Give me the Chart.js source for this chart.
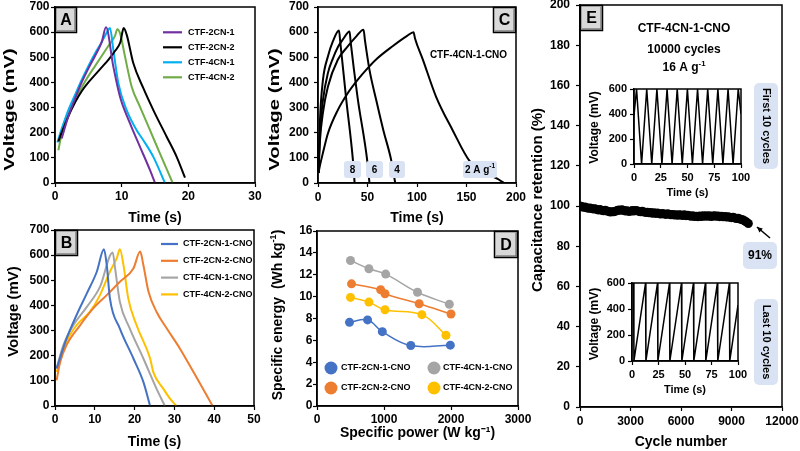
<!DOCTYPE html>
<html><head><meta charset="utf-8">
<script src="https://cdn.jsdelivr.net/npm/chart.js@4.4.0/dist/chart.umd.min.js"></script>
<style>
html,body{margin:0;padding:0;background:#fff;}
#wrap{position:relative;width:800px;height:451px;overflow:hidden;background:#fff;}
#wrap canvas{position:absolute;left:0;top:0;}
</style></head><body><div id="wrap">
<canvas id="cA" width="800" height="451"></canvas>
<canvas id="cB" width="800" height="451"></canvas>
<canvas id="cC" width="800" height="451"></canvas>
<canvas id="cD" width="800" height="451"></canvas>
<canvas id="cE" width="800" height="451"></canvas>
<canvas id="cE1" width="800" height="451"></canvas>
<canvas id="cE2" width="800" height="451"></canvas>
</div>
<script>
// ================= DATA =================
// Panel A : time (s) / voltage (mV)
const aLabels = ['CTF-2CN-1', 'CTF-2CN-2', 'CTF-4CN-1', 'CTF-4CN-2'];
const aT_2CN1 = [1.0, 2, 3, 4, 5, 6, 7, 7.65, 8.75, 9.75, 11.25, 12.75, 14.25, 15.0];
const aV_2CN1 = [177, 265, 335, 400, 455, 505, 560, 619, 463, 343, 237, 144, 51, 0];
const aT_2CN2 = [0.5, 1, 2, 3, 4, 5, 6, 7, 8, 9, 9.8, 10.3, 10.75, 11.75, 13.25, 14.75, 16.75, 18.25, 19.5];
const aV_2CN2 = [165, 200, 265, 320, 365, 400, 430, 460, 490, 525, 560, 616, 590, 476, 377, 290, 184, 104, 21];
const aT_4CN1 = [0.35, 1, 2, 3, 4, 5, 6, 7, 7.8, 8.25, 8.75, 9.5, 10.75, 12.25, 13.25, 14.75, 16.5];
const aV_4CN1 = [161, 215, 290, 350, 410, 465, 515, 560, 600, 616, 530, 397, 290, 210, 170, 104, 0];
const aT_4CN2 = [0.5, 1, 2, 3, 4, 5, 6, 7, 8, 9, 9.35, 9.75, 10.5, 11.5, 12.75, 14.25, 15.75, 17.65];
const aV_4CN2 = [130, 195, 275, 330, 380, 425, 465, 505, 545, 585, 612, 596, 503, 383, 303, 210, 117, 0];

// Panel B
const bLabels = ['CTF-2CN-1-CNO', 'CTF-2CN-2-CNO', 'CTF-4CN-1-CNO', 'CTF-4CN-2-CNO'];
const bT_2CN1 = [0.4, 2.9, 5.4, 8.0, 10.5, 12.3, 13.0, 13.8, 16.3, 19.7, 22.2, 23.9];
const bV_2CN1 = [149, 268, 361, 448, 534, 623, 561, 428, 308, 189, 96, 0];
const bT_2CN2 = [0.4, 1.3, 2.9, 6.3, 9.6, 13.0, 16.3, 19.7, 21.4, 22.2, 23.5, 25.5, 28.1, 31.4, 34.8, 38.1, 39.6];
const bV_2CN2 = [102, 175, 242, 321, 388, 441, 494, 547, 614, 561, 454, 375, 308, 228, 135, 43, 0];
const bT_4CN1 = [0.4, 2.1, 4.6, 8.0, 11.3, 14.5, 15.1, 16.3, 18.8, 22.2, 25.5, 27.6];
const bV_4CN1 = [149, 242, 321, 394, 474, 611, 547, 414, 308, 189, 69, 0];
const bT_4CN2 = [0.4, 2.9, 5.4, 8.8, 11.3, 13.8, 15.5, 16.3, 17.2, 18.4, 20.5, 23.9, 24.7, 27.2, 28.9, 30.5];
const bV_4CN2 = [135, 255, 321, 375, 441, 534, 587, 623, 561, 428, 321, 189, 135, 69, 29, 0];

// Panel C : CTF-4CN-1-CNO at 8, 6, 4, 2 A/g
const cCurrents = ['8', '6', '4', '2'];
const cT_8 = [0.5, 2, 5, 10, 15, 21.2, 22.5, 28.6, 35.3, 37];
const cV_8 = [40, 250, 410, 503, 563, 607, 560, 330, 90, 0];
const cT_6 = [0.5, 2, 5, 10, 15, 20, 25, 31.9, 33, 40, 49.7, 52];
const cV_6 = [40, 200, 330, 437, 495, 540, 570, 603, 560, 340, 90, 0];
const cT_4 = [0.5, 2, 5, 10, 20, 30, 38, 46, 47.5, 52, 58.8, 66, 74, 78];
const cV_4 = [40, 170, 280, 383, 490, 543, 580, 610, 565, 450, 330, 210, 90, 0];
const cT_2 = [0.5, 2, 5, 10, 20, 30, 40, 50, 60, 75, 90, 96.5, 98, 106, 119.3, 136, 153, 168, 181, 188];
const cV_2 = [40, 70, 120, 197, 290, 357, 410, 456, 496, 543, 585, 600, 575, 490, 343, 210, 88, 42, 17, 0];

// Panel D : specific power (W/kg) / specific energy (Wh/kg)
const dLabels = ['CTF-2CN-1-CNO', 'CTF-2CN-2-CNO', 'CTF-4CN-1-CNO', 'CTF-4CN-2-CNO'];
const dP_2CN1 = [485, 755, 975, 1400, 1990];
const dE_2CN1 = [7.65, 7.87, 6.8, 5.53, 5.56];
const dP_2CN2 = [515, 950, 1015, 1525, 2000];
const dE_2CN2 = [11.17, 10.63, 10.26, 9.35, 8.41];
const dP_4CN1 = [500, 775, 1025, 1500, 1975];
const dE_4CN1 = [13.3, 12.55, 12.06, 10.4, 9.3];
const dP_4CN2 = [500, 775, 1015, 1565, 1925];
const dE_4CN2 = [9.93, 9.5, 8.8, 8.35, 6.47];

// Panel E : cycling stability
const eCycles = [0,100,200,300,400,500,600,700,800,900,1000,1100,1200,1300,1400,1500,1600,1700,1800,1900,
  2000,2100,2200,2300,2400,2500,2600,2700,2800,2900,3000,3100,3200,3300,3400,3500,3600,3700,3800,3900,
  4000,4100,4200,4300,4400,4500,4600,4700,4800,4900,5000,5100,5200,5300,5400,5500,5600,5700,5800,5900,
  6000,6100,6200,6300,6400,6500,6600,6700,6800,6900,7000,7100,7200,7300,7400,7500,7600,7700,7800,7900,
  8000,8100,8200,8300,8400,8500,8600,8700,8800,8900,9000,9100,9200,9300,9400,9500,9600,9700,9800,9900,10000];
const eRetention = [100.0,99.7,99.4,99.5,99.1,98.9,99.0,98.7,98.5,98.6,
  98.3,98.0,98.2,97.8,97.6,97.9,97.5,97.3,97.0,97.2,
  97.1,97.4,97.7,98.0,97.9,98.1,97.8,97.5,97.6,97.3,
  97.4,97.7,97.5,97.8,97.6,97.3,97.1,97.4,97.0,96.8,
  96.9,96.6,96.8,96.4,96.6,96.3,96.5,96.2,96.0,96.3,
  96.0,95.8,96.1,95.9,95.6,95.8,95.5,95.7,95.4,95.6,
  95.5,95.3,95.6,95.2,95.4,95.1,94.9,95.2,94.8,94.9,
  94.7,95.0,94.8,95.1,94.9,95.2,94.9,95.1,94.8,95.0,
  95.1,94.9,95.0,94.7,94.9,94.6,94.8,94.5,94.6,94.4,
  94.2,94.4,94.0,93.8,93.9,93.5,93.3,93.0,92.5,92.0,91.3];
// Insets: first and last 10 cycles (time s / voltage mV)
const firstT = [0, 2.4, 7.1, 11.9, 16.6, 21.4, 26.1, 30.9, 35.6, 40.4, 45.1, 49.9, 54.6, 59.4, 64.1, 68.9, 73.6, 78.4, 83.1, 87.9, 92.6, 97.4, 100];
const firstV = [390, 600, 0, 600, 0, 600, 0, 600, 0, 600, 0, 600, 0, 600, 0, 600, 0, 600, 0, 600, 0, 600, 400];
const lastT = [0, 1.5, 1.8, 12.8, 13.1, 24.1, 24.4, 35.4, 35.7, 46.7, 47.0, 58.0, 58.3, 69.3, 69.6, 80.6, 80.9, 91.9, 92.2, 100];
const lastV = [600, 600, 0, 600, 0, 600, 0, 600, 0, 600, 0, 600, 0, 600, 0, 600, 0, 600, 0, 430];

// ================= SETUP =================
const FONT = '"Liberation Sans", Arial, Helvetica, sans-serif';
Chart.defaults.font.family = FONT;
Chart.defaults.font.weight = 'bold';
Chart.defaults.font.size = 12;
Chart.defaults.color = '#000';
Chart.defaults.animation = false;
Chart.defaults.responsive = false;
Chart.defaults.devicePixelRatio = 1;
Chart.defaults.events = [];
Chart.defaults.plugins.legend.display = false;
Chart.defaults.plugins.tooltip.enabled = false;

const pts = (xs, ys) => xs.map((x, i) => ({x: x, y: ys[i]}));
const fnt = (s) => 'bold ' + s + 'px ' + FONT;

function axis(min, max, step, o) {
  const cfg = {
    type: 'linear', min: min, max: max,
    ticks: {stepSize: step, padding: o.pad, font: {size: o.fs || 12}, maxRotation: 0, autoSkip: false,
      callback: (v) => String(v)},
    grid: {display: true, drawOnChartArea: false, drawTicks: true, tickLength: o.tl || 4, tickColor: '#000', tickWidth: 1.2},
    border: {display: true, color: '#000', width: 1.5},
    afterFit: function (s) {
      if (o.w != null) s.width = o.w;
      if (o.h != null) s.height = o.h;
      s.paddingTop = 0; s.paddingBottom = 0; s.paddingLeft = 0; s.paddingRight = 0;
    }
  };
  if (o.title) cfg.title = {display: true, text: o.title, font: {size: o.tfs || 14}, padding: {top: 0, bottom: o.tpb || 0}};
  return cfg;
}

function rr(ctx, x, y, w, h, r) {
  ctx.beginPath();
  ctx.moveTo(x + r, y);
  ctx.arcTo(x + w, y, x + w, y + h, r);
  ctx.arcTo(x + w, y + h, x, y + h, r);
  ctx.arcTo(x, y + h, x, y, r);
  ctx.arcTo(x, y, x + w, y, r);
  ctx.closePath();
}
function partsW(ctx, parts, sz) {
  let w = 0;
  parts.forEach(p => { ctx.font = fnt(p.sup ? sz * 0.65 : sz); w += ctx.measureText(p.t).width; });
  return w;
}
function drawParts(ctx, parts, x, y, sz, align) {
  const w = partsW(ctx, parts, sz);
  let cx = align === 'left' ? x : (align === 'right' ? x - w : x - w / 2);
  ctx.textAlign = 'left'; ctx.textBaseline = 'middle'; ctx.fillStyle = '#000';
  parts.forEach(p => {
    const s = p.sup ? sz * 0.65 : sz;
    ctx.font = fnt(s);
    ctx.fillText(p.t, cx, p.sup ? y - sz * 0.33 : y);
    cx += ctx.measureText(p.t).width;
  });
}

function drawItem(ctx, it, chart) {
  ctx.save();
  if (it.type === 'panel') {
    ctx.fillStyle = '#d9d9d9';
    ctx.fillRect(it.x, it.y, it.w, it.h);
    ctx.strokeStyle = '#000'; ctx.lineWidth = 1.5;
    ctx.strokeRect(it.x + 0.5, it.y + 0.5, it.w - 1, it.h - 1);
    ctx.strokeStyle = '#555'; ctx.lineWidth = 1;
    ctx.beginPath(); ctx.moveTo(it.x + it.w - 2, it.y + 2); ctx.lineTo(it.x + it.w - 2, it.y + it.h - 2); ctx.lineTo(it.x + 2, it.y + it.h - 2); ctx.stroke();
    drawParts(ctx, [{t: it.text}], it.x + it.w / 2, it.y + it.h / 2 + 1, it.size || 16, 'center');
  } else if (it.type === 'ytitle') {
    ctx.translate(it.x, it.y);
    ctx.rotate(-Math.PI / 2);
    ctx.scale(it.sx || 1, 1);
    drawParts(ctx, it.parts, 0, 0, it.size, 'center');
  } else if (it.type === 'text') {
    drawParts(ctx, it.parts, it.x, it.y, it.size, it.align || 'center');
  } else if (it.type === 'box') {
    ctx.fillStyle = '#dae3f3';
    rr(ctx, it.x, it.y, it.w, it.h, it.r || 3);
    ctx.fill();
    if (it.rot) {
      ctx.translate(it.x + it.w / 2, it.y + it.h / 2);
      ctx.rotate(Math.PI / 2);
      drawParts(ctx, it.parts, 0, 0, it.size, 'center');
    } else {
      drawParts(ctx, it.parts, it.x + it.w / 2, it.y + it.h / 2 + 0.5, it.size, 'center');
    }
  } else if (it.type === 'legendLine') {
    chart.data.datasets.forEach((ds, i) => {
      const y = it.y0 + i * it.dy;
      ctx.strokeStyle = ds.borderColor; ctx.lineWidth = 2.2;
      ctx.beginPath(); ctx.moveTo(it.x1, y); ctx.lineTo(it.x2, y); ctx.stroke();
      drawParts(ctx, [{t: ds.label}], it.tx, y, it.size, 'left');
    });
  } else if (it.type === 'legendDot') {
    it.pos.forEach(p => {
      const ds = chart.data.datasets[p.i];
      ctx.fillStyle = ds.backgroundColor;
      ctx.beginPath(); ctx.arc(p.x, p.y, it.r, 0, Math.PI * 2); ctx.fill();
      drawParts(ctx, [{t: ds.label}], p.tx, p.y, it.size, 'left');
    });
  } else if (it.type === 'arrow') {
    ctx.strokeStyle = '#000'; ctx.fillStyle = '#000'; ctx.lineWidth = 1.5;
    ctx.beginPath(); ctx.moveTo(it.x1, it.y1); ctx.lineTo(it.x2, it.y2); ctx.stroke();
    const a = Math.atan2(it.y2 - it.y1, it.x2 - it.x1), L = 6;
    ctx.beginPath();
    ctx.moveTo(it.x2, it.y2);
    ctx.lineTo(it.x2 - L * Math.cos(a - 0.45), it.y2 - L * Math.sin(a - 0.45));
    ctx.lineTo(it.x2 - L * Math.cos(a + 0.45), it.y2 - L * Math.sin(a + 0.45));
    ctx.closePath(); ctx.fill();
  }
  ctx.restore();
}

Chart.register({
  id: 'decor',
  afterDraw(chart, args, o) {
    const ctx = chart.ctx, a = chart.chartArea;
    ctx.save();
    if (o.frame) {
      ctx.strokeStyle = '#000'; ctx.lineWidth = 1.5;
      ctx.strokeRect(a.left, a.top, a.right - a.left, a.bottom - a.top);
    }
    (o.items || []).forEach(it => drawItem(ctx, it, chart));
    ctx.restore();
  }
});

const lineDs = (label, xs, ys, color, w) => ({label: label, data: pts(xs, ys), borderColor: color, backgroundColor: color, borderWidth: w || 2, pointRadius: 0, fill: false, cubicInterpolationMode: 'monotone'});

// ================= PANEL A =================
new Chart(document.getElementById('cA'), {
  type: 'line',
  data: {datasets: [
    lineDs(aLabels[0], aT_2CN1, aV_2CN1, '#7030a0'),
    lineDs(aLabels[1], aT_2CN2, aV_2CN2, '#000000'),
    lineDs(aLabels[2], aT_4CN1, aV_4CN1, '#00b0f0'),
    lineDs(aLabels[3], aT_4CN2, aV_4CN2, '#70ad47')
  ]},
  options: {
    layout: {padding: {left: 5, right: 545, top: 7, bottom: 224}},
    scales: {
      x: axis(0, 30, 10, {h: 44, pad: 2, title: 'Time (s)'}),
      y: axis(0, 700, 100, {w: 50, pad: 1.5})
    },
    plugins: {decor: {frame: true, items: [
      {type: 'panel', text: 'A', x: 55, y: 7, w: 22, h: 26},
      {type: 'legendLine', x1: 163, x2: 182, tx: 188, y0: 32.3, dy: 15, size: 9},
      {type: 'ytitle', parts: [{t: 'Voltage (mV)'}], x: 9.5, y: 109.5, size: 15, sx: 1.35}
    ]}}
  }
});

// ================= PANEL B =================
new Chart(document.getElementById('cB'), {
  type: 'line',
  data: {datasets: [
    lineDs(bLabels[0], bT_2CN1, bV_2CN1, '#4472c4'),
    lineDs(bLabels[1], bT_2CN2, bV_2CN2, '#ed7d31'),
    lineDs(bLabels[2], bT_4CN1, bV_4CN1, '#a5a5a5'),
    lineDs(bLabels[3], bT_4CN2, bV_4CN2, '#ffc000')
  ]},
  options: {
    layout: {padding: {left: 5, right: 546, top: 230, bottom: 0}},
    scales: {
      x: axis(0, 50, 10, {h: 45, pad: 2, title: 'Time (s)'}),
      y: axis(0, 700, 100, {w: 50, pad: 1.5})
    },
    plugins: {decor: {frame: true, items: [
      {type: 'panel', text: 'B', x: 55, y: 230, w: 23, h: 26},
      {type: 'legendLine', x1: 161, x2: 178, tx: 183, y0: 244, dy: 16.8, size: 9},
      {type: 'ytitle', parts: [{t: 'Voltage (mV)'}], x: 13.5, y: 311.5, size: 15, sx: 1.0}
    ]}}
  }
});

// ================= PANEL C =================
new Chart(document.getElementById('cC'), {
  type: 'line',
  data: {datasets: [
    lineDs(cCurrents[0] + ' A/g', cT_8, cV_8, '#000'),
    lineDs(cCurrents[1] + ' A/g', cT_6, cV_6, '#000'),
    lineDs(cCurrents[2] + ' A/g', cT_4, cV_4, '#000'),
    lineDs(cCurrents[3] + ' A/g', cT_2, cV_2, '#000')
  ]},
  options: {
    layout: {padding: {left: 268, right: 284, top: 7, bottom: 224}},
    scales: {
      x: axis(0, 200, 50, {h: 44, pad: 3, title: 'Time (s)'}),
      y: axis(0, 700, 100, {w: 50, pad: 5})
    },
    plugins: {decor: {frame: true, items: [
      {type: 'panel', text: 'C', x: 493, y: 7, w: 23, h: 26},
      {type: 'text', parts: [{t: 'CTF-4CN-1-CNO'}], x: 468.5, y: 55, size: 10},
      {type: 'box', parts: [{t: cCurrents[0]}], x: 344, y: 161, w: 17, h: 17, size: 10},
      {type: 'box', parts: [{t: cCurrents[1]}], x: 366, y: 161, w: 17, h: 17, size: 10},
      {type: 'box', parts: [{t: cCurrents[2]}], x: 389, y: 161, w: 16, h: 17, size: 10},
      {type: 'box', parts: [{t: cCurrents[3] + ' A g'}, {t: '-1', sup: true}], x: 463, y: 161, w: 34, h: 17, size: 10},
      {type: 'ytitle', parts: [{t: 'Voltage (mV)'}], x: 275, y: 109.5, size: 15, sx: 1.35}
    ]}}
  }
});

// ================= PANEL D =================
const dotDs = (label, xs, ys, color) => ({label: label, data: pts(xs, ys), borderColor: color, backgroundColor: color, borderWidth: 1.5, pointRadius: 4.5, pointBorderWidth: 0, tension: 0.4, fill: false});
new Chart(document.getElementById('cD'), {
  type: 'line',
  data: {datasets: [
    dotDs(dLabels[0], dP_2CN1, dE_2CN1, '#4472c4'),
    dotDs(dLabels[1], dP_2CN2, dE_2CN2, '#ed7d31'),
    dotDs(dLabels[2], dP_4CN1, dE_4CN1, '#a5a5a5'),
    dotDs(dLabels[3], dP_4CN2, dE_4CN2, '#ffc000')
  ]},
  options: {
    layout: {padding: {left: 272, right: 282, top: 231, bottom: 5}},
    scales: {
      x: axis(0, 3000, 1000, {h: 40, pad: 2, title: 'Specific power (W kg\u207B\u00B9)', tpb: 4}),
      y: axis(0, 16, 2, {w: 45, pad: 0.5})
    },
    plugins: {decor: {frame: true, items: [
      {type: 'panel', text: 'D', x: 494, y: 231, w: 24, h: 27},
      {type: 'legendDot', r: 6.5, size: 9, pos: [
        {i: 0, x: 331, y: 368, tx: 341}, {i: 2, x: 434, y: 368, tx: 443},
        {i: 1, x: 331, y: 388, tx: 341}, {i: 3, x: 434, y: 388, tx: 443}]},
      {type: 'ytitle', parts: [{t: 'Specific energy  (Wh kg'}, {t: '-1', sup: true}, {t: ')'}], x: 278, y: 315, size: 14, sx: 1.0}
    ]}}
  }
});

// ================= PANEL E =================
new Chart(document.getElementById('cE'), {
  type: 'scatter',
  data: {datasets: [{label: 'CTF-4CN-1-CNO', data: pts(eCycles, eRetention), backgroundColor: '#000', borderColor: '#000', pointRadius: 4.5, pointBorderWidth: 0}]},
  options: {
    layout: {padding: {left: 520, right: 18, top: 5, bottom: 0}},
    scales: {
      x: axis(0, 12000, 3000, {h: 44, pad: 3.5, title: 'Cycle number'}),
      y: axis(0, 200, 20, {w: 60, pad: 6})
    },
    plugins: {decor: {frame: true, items: [
      {type: 'panel', text: 'E', x: 580, y: 5, w: 23, h: 26},
      {type: 'text', parts: [{t: 'CTF-4CN-1-CNO'}], x: 684, y: 29, size: 12},
      {type: 'text', parts: [{t: '10000 cycles'}], x: 684, y: 50, size: 12},
      {type: 'text', parts: [{t: '16 A g'}, {t: '-1', sup: true}], x: 684, y: 68, size: 12},
      {type: 'box', parts: [{t: 'First 10 cycles'}], x: 754, y: 83, w: 24, h: 86, r: 5, size: 11, rot: true},
      {type: 'box', parts: [{t: '91%'}], x: 743, y: 242, w: 34, h: 27, r: 5, size: 12},
      {type: 'box', parts: [{t: 'Last 10 cycles'}], x: 754, y: 299, w: 24, h: 86, r: 5, size: 11, rot: true},
      {type: 'arrow', x1: 770, y1: 238, x2: 757, y2: 227},
      {type: 'ytitle', parts: [{t: 'Capacitance retention (%)'}], x: 537.5, y: 200, size: 15, sx: 1.0}
    ]}}
  }
});

// Insets
function inset(id, t, v, pad, ytitleY) {
  new Chart(document.getElementById(id), {
    type: 'line',
    data: {datasets: [{label: 'Voltage', data: pts(t, v), borderColor: '#000', borderWidth: 1.5, pointRadius: 0, tension: 0}]},
    options: {
      layout: {padding: pad},
      scales: {
        x: axis(0, 100, 25, {h: 40, pad: 3, fs: 11, title: 'Time (s)', tfs: 11, tpb: 4}),
        y: axis(0, 600, 200, {w: 40, pad: 3, fs: 11})
      },
      plugins: {decor: {frame: true, items: [
        {type: 'ytitle', parts: [{t: 'Voltage (mV)'}], x: 595, y: ytitleY, size: 12, sx: 1.0}
      ]}}
    }
  });
}
inset('cE1', firstT, firstV, {left: 594, right: 59, top: 89, bottom: 247}, 127.5);
inset('cE2', lastT, lastV, {left: 592, right: 62, top: 283, bottom: 50}, 324);
</script></body></html>
